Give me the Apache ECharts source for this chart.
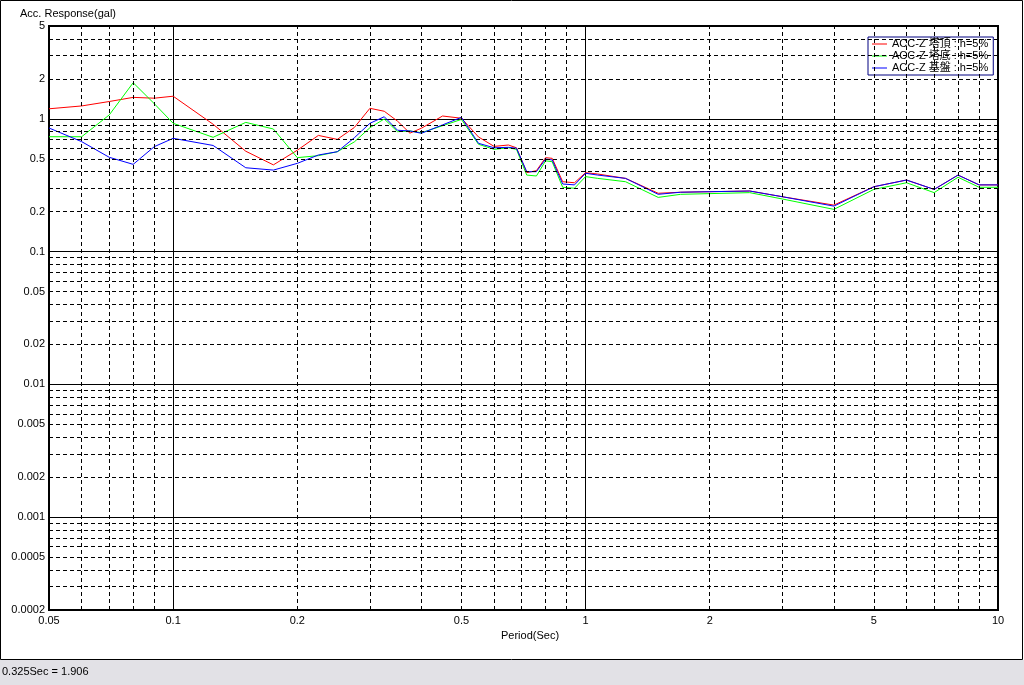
<!DOCTYPE html>
<html>
<head>
<meta charset="utf-8">
<script src="https://cdn.jsdelivr.net/npm/echarts@6/dist/echarts.min.js"></script>
<style>
html,body{margin:0;padding:0;background:#fff;}
#c{width:1024px;height:685px;}
</style>
</head>
<body>
<div id="c"></div>
<script>
// ---- data ----
const periods = [0.05, 0.06, 0.07, 0.08, 0.09, 0.1, 0.125, 0.15, 0.175, 0.2, 0.225, 0.25, 0.275, 0.3, 0.325, 0.35, 0.375, 0.4, 0.45, 0.5,
  0.55, 0.6, 0.65, 0.68, 0.72, 0.76, 0.8, 0.83, 0.88, 0.94, 1.0, 1.07, 1.25, 1.5, 1.7, 2.5, 3.0, 4.0, 5.0, 6.0, 7.0, 8.0, 9.0, 10.0];
const accTop = [1.19, 1.25, 1.35, 1.45, 1.43, 1.48, 0.91, 0.57, 0.45, 0.58, 0.75, 0.70, 0.86, 1.20, 1.14, 0.96, 0.78, 0.85, 1.05, 1.01,
  0.73, 0.62, 0.635, 0.605, 0.393, 0.407, 0.51, 0.504, 0.336, 0.33, 0.393, 0.384, 0.356, 0.275, 0.28, 0.286, 0.259, 0.224, 0.308, 0.346, 0.294, 0.377, 0.318, 0.318];
const accBottom = [0.733, 0.733, 1.07, 1.87, 1.3, 0.925, 0.726, 0.94, 0.838, 0.51, 0.528, 0.565, 0.67, 0.857, 0.997, 0.80, 0.81, 0.786, 0.887, 0.99,
  0.643, 0.589, 0.605, 0.589, 0.377, 0.371, 0.483, 0.475, 0.305, 0.30, 0.367, 0.356, 0.336, 0.256, 0.27, 0.278, 0.249, 0.208, 0.294, 0.33, 0.278, 0.363, 0.305, 0.305];
const accBase = [0.853, 0.673, 0.513, 0.454, 0.617, 0.713, 0.63, 0.428, 0.411, 0.462, 0.534, 0.565, 0.72, 0.925, 1.037, 0.82, 0.81, 0.778, 0.90, 1.026,
  0.654, 0.605, 0.61, 0.60, 0.40, 0.40, 0.498, 0.49, 0.323, 0.318, 0.389, 0.377, 0.356, 0.27, 0.28, 0.286, 0.259, 0.22, 0.308, 0.346, 0.294, 0.377, 0.318, 0.318];
const seriesNames = ['ACC-Z 塔頂 : h=5%', 'ACC-Z 塔底 : h=5%', 'ACC-Z 基盤 : h=5%'];
const seriesColors = ['#ff0000', '#00ff00', '#0000ff'];
const xLabelValues = [0.05, 0.1, 0.2, 0.5, 1, 2, 5, 10];
const yLabelValues = [0.0002, 0.0005, 0.001, 0.002, 0.005, 0.01, 0.02, 0.05, 0.1, 0.2, 0.5, 1, 2, 5];
const xMinorGrid = [0.06, 0.07, 0.08, 0.09, 0.2, 0.3, 0.4, 0.5, 0.6, 0.7, 0.8, 0.9, 2, 3, 4, 5, 6, 7, 8, 9];
const yMinorGrid = [0.0003, 0.0004, 0.0005, 0.0006, 0.0007, 0.0008, 0.0009,
  0.002, 0.003, 0.004, 0.005, 0.006, 0.007, 0.008, 0.009,
  0.02, 0.03, 0.04, 0.05, 0.06, 0.07, 0.08, 0.09,
  0.2, 0.3, 0.4, 0.5, 0.6, 0.7, 0.8, 0.9, 2, 3, 4];
const xTitle = 'Period(Sec)';
const yTitle = 'Acc. Response(gal)';
const statusText = '0.325Sec = 1.906';

// ---- chart ----
const FONT = 'Arial, "Liberation Sans", "Noto Sans CJK JP", sans-serif';
const fmt = v => String(+Number(v).toPrecision(4));
const chart = echarts.init(document.getElementById('c'), null, {renderer: 'canvas'});
const dataSeries = [accTop, accBottom, accBase].map((vals, i) => ({
  name: seriesNames[i],
  type: 'line',
  data: periods.map((p, k) => [p, vals[k]]),
  showSymbol: false,
  symbol: 'none',
  silent: true,
  z: 3,
  color: seriesColors[i],
  lineStyle: {color: seriesColors[i], width: 1}
}));
chart.setOption({
  animation: false,
  backgroundColor: '#fff',
  textStyle: {fontFamily: FONT},
  grid: {left: 49, right: 26, top: 26, bottom: 75, show: true, borderColor: '#000', borderWidth: 2, backgroundColor: 'transparent'},
  legend: {
    data: seriesNames, left: 868, top: 37, orient: 'vertical', itemGap: 0,
    itemWidth: 15, itemHeight: 1, icon: 'rect', padding: [1, 5, 1, 4],
    borderColor: '#000080', borderWidth: 1, backgroundColor: '#fff', selectedMode: false,
    textStyle: {fontSize: 11, lineHeight: 12, color: '#000', fontFamily: FONT}
  },
  xAxis: {
    type: 'log', logBase: 10, min: 0.05, max: 10,
    name: xTitle, nameLocation: 'middle', nameGap: 20,
    nameTextStyle: {color: '#000', fontSize: 11, fontFamily: FONT, padding: [0, 0, 0, 13]},
    axisLine: {show: false}, axisTick: {show: false},
    axisLabel: {customValues: xLabelValues, formatter: fmt, color: '#000', fontSize: 11, margin: 5, showMinLabel: true, showMaxLabel: true},
    splitLine: {show: true, lineStyle: {color: '#000', width: 1, type: 'solid'}}
  },
  yAxis: {
    type: 'log', logBase: 10, min: 0.0002, max: 5,
    name: yTitle, nameLocation: 'end', nameGap: 7,
    nameTextStyle: {color: '#000', fontSize: 11, fontFamily: FONT, align: 'center', padding: [0, 0, 0, 38]},
    axisLine: {show: false}, axisTick: {show: false},
    axisLabel: {customValues: yLabelValues, formatter: fmt, color: '#000', fontSize: 11, margin: 4, showMinLabel: true, showMaxLabel: true},
    splitLine: {show: true, lineStyle: {color: '#000', width: 1, type: 'solid'}}
  },
  graphic: [
    {type: 'rect', shape: {x: 0, y: 660, width: 1024, height: 25}, style: {fill: '#e2e1e6'}, silent: true},
    {type: 'rect', shape: {x: 0.5, y: 0.5, width: 1022, height: 659}, style: {fill: null, stroke: '#000', lineWidth: 1}, silent: true},
    {type: 'text', x: 2, y: 666, style: {text: statusText, font: '11px ' + FONT, fill: '#000'}, silent: true}
  ],
  series: [{
    type: 'line', data: [], silent: true, z: 1,
    markLine: {
      silent: true, symbol: ['none', 'none'], label: {show: false}, animation: false,
      precision: 10,
      lineStyle: {color: '#000', type: [4, 3], width: 1},
      emphasis: {disabled: true},
      data: xMinorGrid.map(v => ({xAxis: v})).concat(yMinorGrid.map(v => ({yAxis: v})))
    }
  }].concat(dataSeries)
});
</script>
</body>
</html>
